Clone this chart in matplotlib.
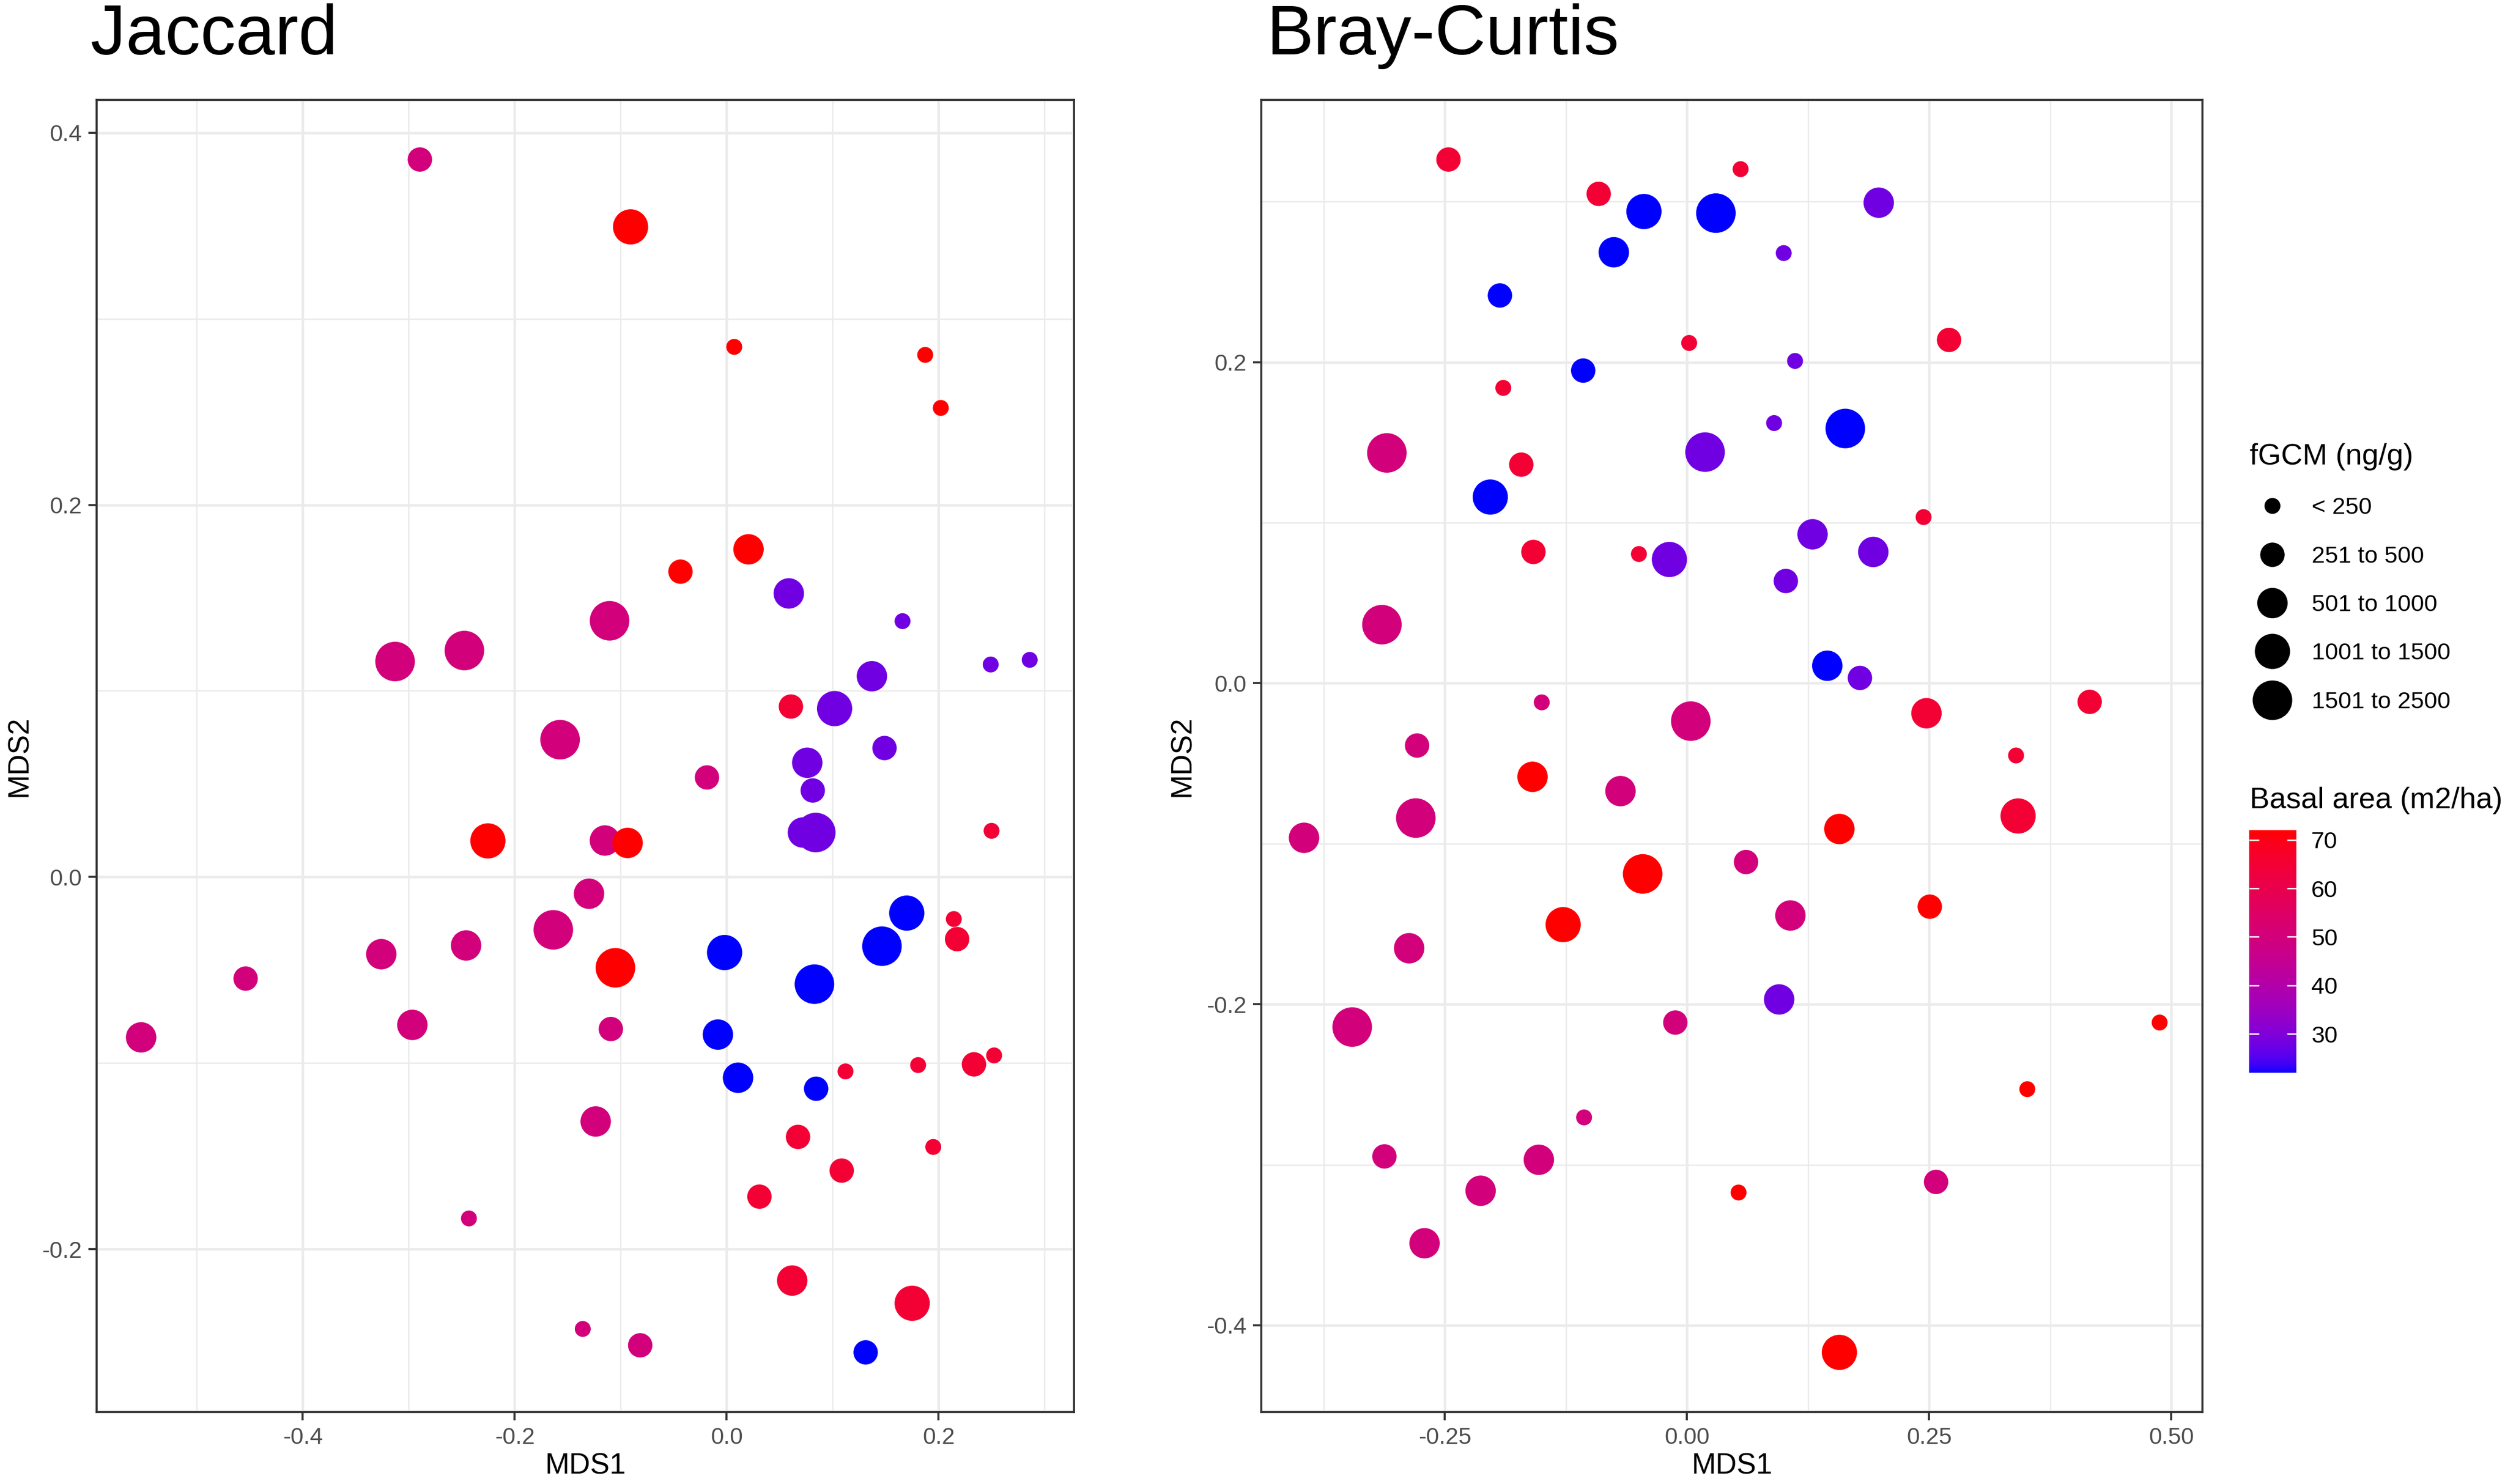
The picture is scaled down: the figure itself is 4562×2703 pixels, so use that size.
import numpy as np
import matplotlib
matplotlib.use("Agg")
import matplotlib.pyplot as plt
import matplotlib.cm as cm
from matplotlib.colors import ListedColormap, Normalize
from matplotlib.lines import Line2D
from matplotlib.ticker import MultipleLocator, FuncFormatter

plt.rcParams['font.family'] = ['Liberation Sans', 'DejaVu Sans']
plt.rcParams['axes.unicode_minus'] = False

# ---------------- data ----------------
# Jaccard NMDS
jac_mds1 = [-0.2895, -0.1105, -0.2475, -0.3129, -0.1572, -0.0186, -0.1149, -0.1299, -0.1636, -0.2459,
            -0.3259, -0.4539, -0.5525, -0.2966, -0.1093, -0.1236, -0.2432, -0.1358, -0.0816,
            0.0586, 0.1659, 0.2491, 0.2859, 0.1370, 0.1018, 0.0760, 0.1489, 0.0812, 0.0719, 0.0840,
            -0.0020, -0.0083, 0.0107, 0.0828, 0.1465, 0.1699, 0.0844, 0.1311,
            0.0606, 0.2499, 0.2143, 0.2174, 0.1121, 0.1806, 0.2333, 0.2523, 0.0673, 0.1949, 0.1085, 0.0309, 0.0618, 0.1750,
            -0.0907, 0.0071, 0.1873, 0.2020, -0.0436, 0.0206, -0.2253, -0.0935, -0.1050]
jac_mds2 = [0.3856, 0.1377, 0.1217, 0.1158, 0.0738, 0.0535, 0.0196, -0.0090, -0.0284, -0.0368,
            -0.0415, -0.0546, -0.0862, -0.0795, -0.0817, -0.1314, -0.1835, -0.2429, -0.2517,
            0.1524, 0.1375, 0.1142, 0.1167, 0.1079, 0.0905, 0.0614, 0.0693, 0.0465, 0.0239, 0.0239,
            -0.0406, -0.0847, -0.1079, -0.0576, -0.0372, -0.0194, -0.1138, -0.2555,
            0.0916, 0.0248, -0.0226, -0.0334, -0.1045, -0.1011, -0.1007, -0.0959, -0.1397, -0.1451, -0.1578, -0.1718, -0.2169, -0.2291,
            0.3494, 0.2849, 0.2806, 0.2521, 0.1641, 0.1761, 0.0194, 0.0183, -0.0488]
jac_fgcm = [2, 5, 5, 5, 5, 2, 3, 3, 5, 3, 3, 2, 3, 3, 2, 3, 1, 1, 2,
            3, 1, 1, 1, 3, 4, 3, 2, 2, 3, 5,
            4, 3, 3, 5, 5, 4, 2, 2,
            2, 1, 1, 2, 1, 1, 2, 1, 2, 1, 2, 2, 3, 4,
            4, 1, 1, 1, 2, 3, 4, 3, 5]
jac_basal = [50] * 19 + [28] * 11 + [22] * 8 + [65] * 14 + [72] * 9

# Bray-Curtis NMDS
bc_mds1 = [-0.3099, -0.3150, -0.1500, 0.0039, -0.2787, -0.0687, -0.2800, -0.3954, 0.0609, 0.1067,
           -0.2869, -0.3457, -0.0121, -0.1063, -0.3124, -0.1530, -0.2131, -0.2710, 0.2571,
           0.1979, 0.0998, 0.1115, 0.0899, 0.0186, 0.1296, -0.0182, 0.1923, 0.1020, 0.1785, 0.0951,
           -0.0445, 0.0298, -0.0756, -0.1932, -0.1072, 0.1634, -0.2031, 0.1448,
           -0.2463, 0.0553, -0.0912, 0.0022, -0.1897, -0.1711, 0.2442, -0.1586, -0.0497, 0.2472, 0.2705, 0.4157, 0.3397, 0.3418,
           -0.1595, -0.0458, -0.1279, 0.1573, 0.1573, 0.0532, 0.2506, 0.4879, 0.3513]
bc_mds2 = [0.1435, 0.0365, -0.0119, -0.0236, -0.0388, -0.0672, -0.0840, -0.0963, -0.1114, -0.1447,
           -0.1651, -0.2142, -0.2114, -0.2705, -0.2948, -0.2969, -0.3162, -0.3489, -0.3107,
           0.2994, 0.2680, 0.2008, 0.1621, 0.1440, 0.0928, 0.0771, 0.0818, 0.0637, 0.0033, -0.1970,
           0.2939, 0.2929, 0.2685, 0.2416, 0.1948, 0.1587, 0.1160, 0.0109,
           0.3263, 0.3203, 0.3049, 0.2120, 0.1840, 0.1362, 0.1035, 0.0818, 0.0805, -0.0187, 0.2139, -0.0116, -0.0450, -0.0827,
           -0.0583, -0.1188, -0.1504, -0.0908, -0.4169, -0.3173, -0.1392, -0.2114, -0.2529]
bc_fgcm = [5, 5, 1, 5, 2, 3, 5, 3, 2, 3, 3, 5, 2, 1, 2, 3, 3, 3, 2,
           3, 1, 1, 1, 5, 3, 4, 3, 2, 2, 3,
           4, 5, 3, 2, 2, 5, 4, 3,
           2, 1, 2, 1, 1, 2, 1, 2, 1, 3, 2, 2, 1, 4,
           3, 5, 4, 3, 4, 1, 2, 1, 1]
bc_basal = [50] * 19 + [28] * 11 + [22] * 8 + [65] * 14 + [72] * 9

fgcm_labels = ["< 250", "251 to 500", "501 to 1000", "1001 to 1500", "1501 to 2500"]
basal_ticks = [30, 40, 50, 60, 70]

# ---------------- styles ----------------
marker_diam_pt = [6.96, 10.66, 13.3, 15.4, 17.3]


def srgb_to_lab(rgb):
    rgb = np.asarray(rgb, float)
    lin = np.where(rgb <= 0.04045, rgb / 12.92, ((rgb + 0.055) / 1.055) ** 2.4)
    M = np.array([[0.4124564, 0.3575761, 0.1804375],
                  [0.2126729, 0.7151522, 0.0721750],
                  [0.0193339, 0.1191920, 0.9503041]])
    xyz = M @ lin / np.array([0.95047, 1.0, 1.08883])
    d = 6 / 29
    f = np.where(xyz > d ** 3, np.cbrt(xyz), xyz / (3 * d * d) + 4 / 29)
    return np.array([116 * f[1] - 16, 500 * (f[0] - f[1]), 200 * (f[1] - f[2])])


def lab_to_srgb(lab):
    L, a, b = lab
    fy = (L + 16) / 116
    fx = fy + a / 500
    fz = fy - b / 200
    d = 6 / 29
    f = np.array([fx, fy, fz])
    xyz = np.where(f > d, f ** 3, 3 * d * d * (f - 4 / 29)) * np.array([0.95047, 1.0, 1.08883])
    Minv = np.array([[3.2404542, -1.5371385, -0.4985314],
                     [-0.9692660, 1.8760108, 0.0415560],
                     [0.0556434, -0.2040259, 1.0572252]])
    lin = np.clip(Minv @ xyz, 0, 1)
    rgb = np.where(lin <= 0.0031308, 12.92 * lin, 1.055 * lin ** (1 / 2.4) - 0.055)
    return np.clip(rgb, 0, 1)


lab_lo = srgb_to_lab([0, 0, 1])
lab_hi = srgb_to_lab([1, 0, 0])
cmap = ListedColormap([lab_to_srgb(lab_lo + t * (lab_hi - lab_lo)) for t in np.linspace(0, 1, 256)])
all_basal = jac_basal + bc_basal
norm = Normalize(vmin=min(all_basal), vmax=max(all_basal))

fig = plt.figure(figsize=(4562 / 300, 2703 / 300), dpi=300)
ax1 = fig.add_axes([0.0386, 0.0485, 0.3902, 0.8842])
ax2 = fig.add_axes([0.5035, 0.0485, 0.3757, 0.8842])


def fmt(dec):
    return FuncFormatter(lambda v, p: f"{round(v, 4) + 0.0:.{dec}f}")


def panel(ax, x, y, cls, basal, xmaj, xmin, xdec, ymaj, ymin, ydec, title_x, title):
    x = np.asarray(x); y = np.asarray(y)
    s = [marker_diam_pt[c - 1] ** 2 for c in cls]
    ax.scatter(x, y, s=s, c=basal, cmap=cmap, norm=norm, linewidths=0, zorder=3)
    xr = x.max() - x.min(); yr = y.max() - y.min()
    ax.set_xlim(x.min() - 0.05 * xr, x.max() + 0.05 * xr)
    ax.set_ylim(y.min() - 0.05 * yr, y.max() + 0.05 * yr)
    ax.xaxis.set_major_locator(MultipleLocator(xmaj))
    ax.xaxis.set_minor_locator(MultipleLocator(xmin))
    ax.yaxis.set_major_locator(MultipleLocator(ymaj))
    ax.yaxis.set_minor_locator(MultipleLocator(ymin))
    ax.xaxis.set_major_formatter(fmt(xdec))
    ax.yaxis.set_major_formatter(fmt(ydec))
    ax.set_axisbelow(True)
    ax.grid(which='major', color='#EBEBEB', lw=1.1)
    ax.grid(which='minor', color='#EBEBEB', lw=0.6)
    for sp in ax.spines.values():
        sp.set_color('#333333')
        sp.set_linewidth(0.9)
    ax.tick_params(which='major', direction='out', length=3.5, width=0.9, color='#333333',
                   labelsize=10.2, labelcolor='#4D4D4D', pad=3)
    ax.tick_params(which='minor', length=0)
    ax.set_xlabel('MDS1', fontsize=12.75, va='center')
    ax.set_ylabel('MDS2', fontsize=12.75, va='center')
    ax.xaxis.set_label_coords(0.5, -0.0414)
    fig.text(title_x, 0.9634, title, fontsize=30.8, va='baseline', ha='left')


panel(ax1, jac_mds1, jac_mds2, jac_fgcm, jac_basal, 0.2, 0.1, 1, 0.2, 0.1, 1, 0.0362, 'Jaccard')
ax1.yaxis.set_label_coords(-0.0792, 0.5)
panel(ax2, bc_mds1, bc_mds2, bc_fgcm, bc_basal, 0.25, 0.125, 2, 0.2, 0.1, 1, 0.5055, 'Bray-Curtis')
ax2.yaxis.set_label_coords(-0.084, 0.5)

# size legend
handles = [Line2D([], [], marker='o', ls='', color='black', markersize=d, markeredgewidth=0)
           for d in marker_diam_pt]
fig.legend(handles, fgcm_labels, title='fGCM (ng/g)', loc='upper left',
           bbox_to_anchor=(0.8981, 0.7014), frameon=False, fontsize=10.4, title_fontsize=13,
           borderpad=0, borderaxespad=0, handlelength=1.9, handletextpad=0.7,
           labelspacing=1.115, alignment='left')

# colour bar
cax = fig.add_axes([4096 / 4562, 1 - 1954 / 2703, 86 / 4562, 442 / 2703])
cb = fig.colorbar(cm.ScalarMappable(norm=norm, cmap=cmap), cax=cax, ticks=basal_ticks)
cb.outline.set_visible(False)
cb.minorticks_off()
cax.tick_params(which='major', direction='in', length=4.2, width=0.6, color='white',
                left=True, right=True, labelleft=False, labelright=True,
                labelsize=10.4, labelcolor='black', pad=6.5)
fig.text(0.8981, 1 - 1458 / 2703, 'Basal area (m2/ha)', fontsize=13, va='center', ha='left')

fig.savefig('out.png', dpi=300)
